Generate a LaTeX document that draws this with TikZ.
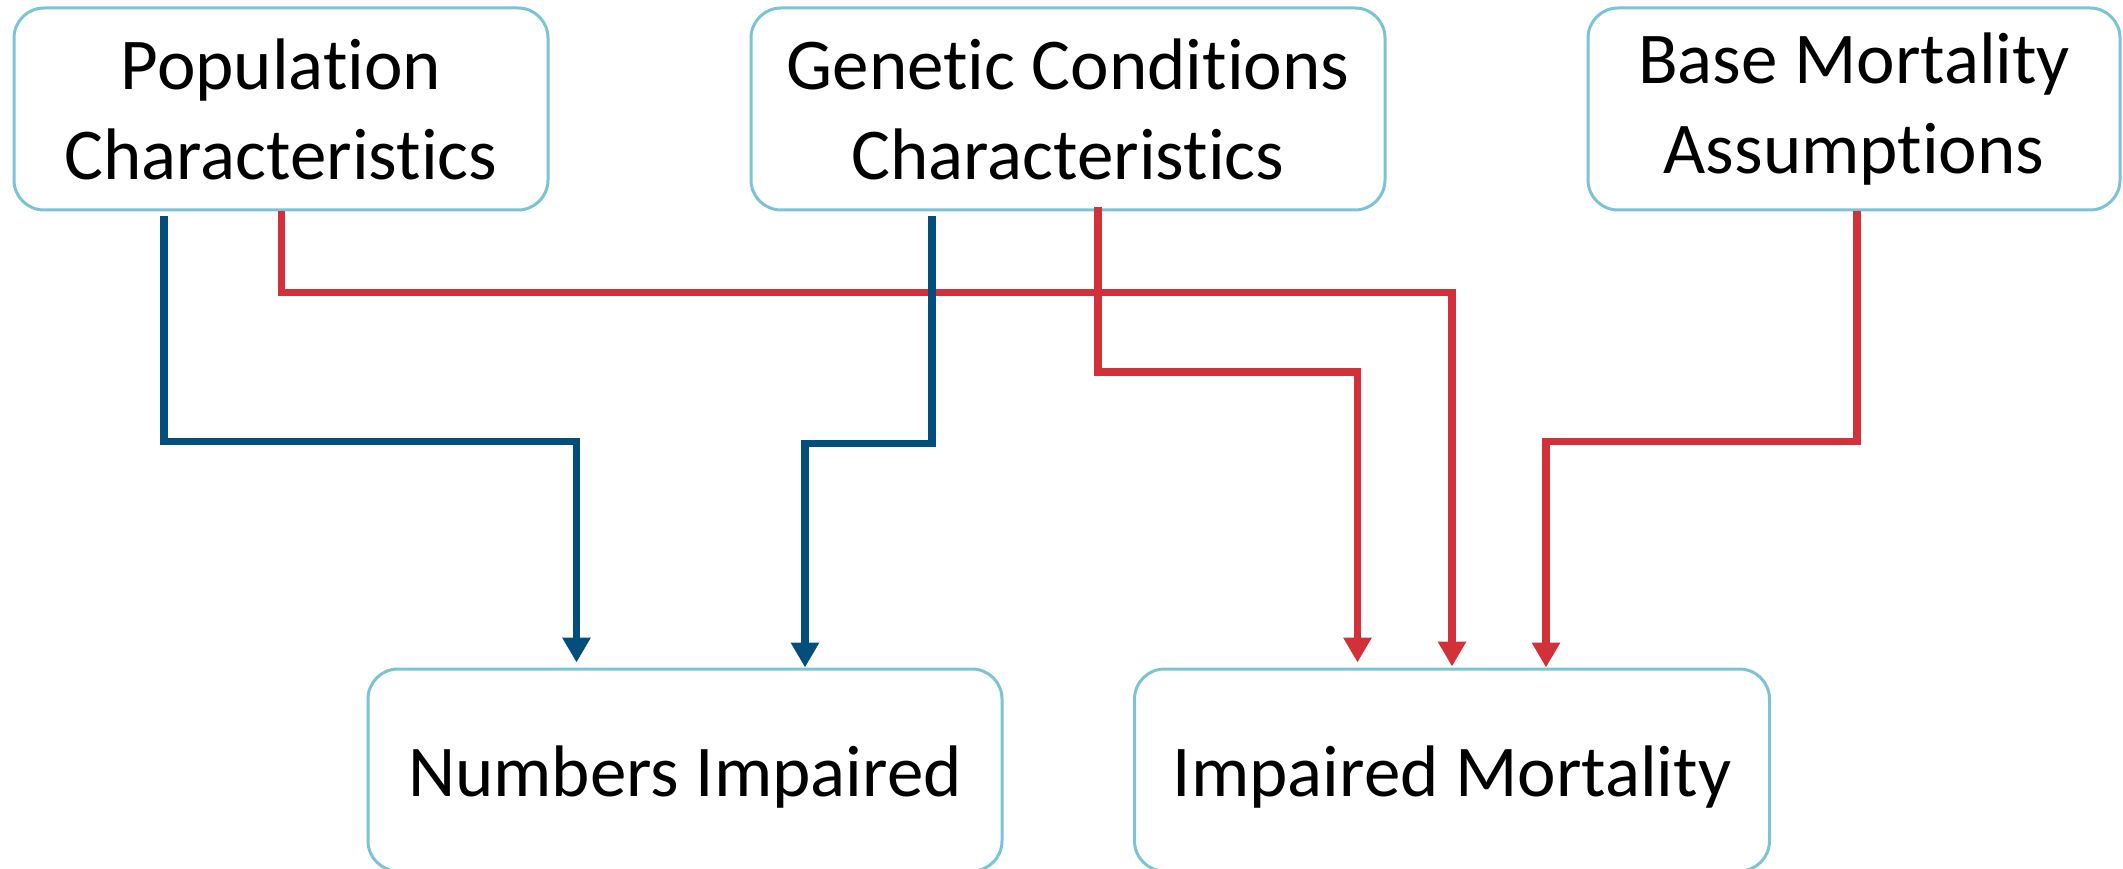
\documentclass[tikz,border=0pt]{standalone}
\usepackage{fontspec}
\setmainfont{Carlito}[Ligatures={NoCommon}]
\usetikzlibrary{arrows.meta,calc}
\definecolor{boxline}{RGB}{122,196,213}
\definecolor{arrblue}{RGB}{3,78,123}
\definecolor{arrred}{RGB}{211,49,58}
\tikzset{
  infobox/.style={draw=boxline, line width=3pt, rounded corners=30pt, fill=white,
    align=center, inner sep=0pt, font=\fontsize{73}{90}\selectfont},
  topbox/.style={infobox, minimum height=202pt},
  botbox/.style={infobox, minimum height=202pt, text height=60pt, text depth=8pt},
  conn/.style={line width=7.5pt, line join=miter, -{Triangle[width=27pt,length=25pt]}},
  bluearr/.style={conn, draw=arrblue},
  redarr/.style={conn, draw=arrred}
}
\begin{document}
\begin{tikzpicture}[x=1pt,y=-1pt]
\useasboundingbox (0,0) rectangle (2123,869);
\node[topbox, minimum width=534pt] (pop) at (281,109) {Population\\Characteristics};
\node[topbox, minimum width=634pt] (gen) at (1068,109) {Genetic Conditions\\Characteristics};
\node[topbox, minimum width=532pt] (base) at (1854,109) {Base Mortality\\Assumptions};
\node[botbox, minimum width=634pt] (num) at (685,770) {Numbers Impaired};
\node[botbox, minimum width=635pt] (imp) at (1452,770) {Impaired Mortality};
% red connectors
\draw[redarr] ($(pop.south)+(0.5,0)$) -- ++(0,81) -| ($(imp.north)+(0,-1)$);
\draw[redarr] ($(gen.south)+(30,-4.5)$) -- ++(0,165) -| ($(imp.north)+(-94.5,-5)$);
\draw[redarr] ($(base.south)+(3,0)$) -- ++(0,230) -| ($(imp.north)+(94,0)$);
% blue connectors
\draw[bluearr] ($(pop.south)+(-117,5)$) -- ++(0,225) -| ($(num.north)+(-108.5,-5)$);
\draw[bluearr] ($(gen.south)+(-136,5)$) -- ++(0,227) -| ($(num.north)+(120,0)$);
\end{tikzpicture}
\end{document}
